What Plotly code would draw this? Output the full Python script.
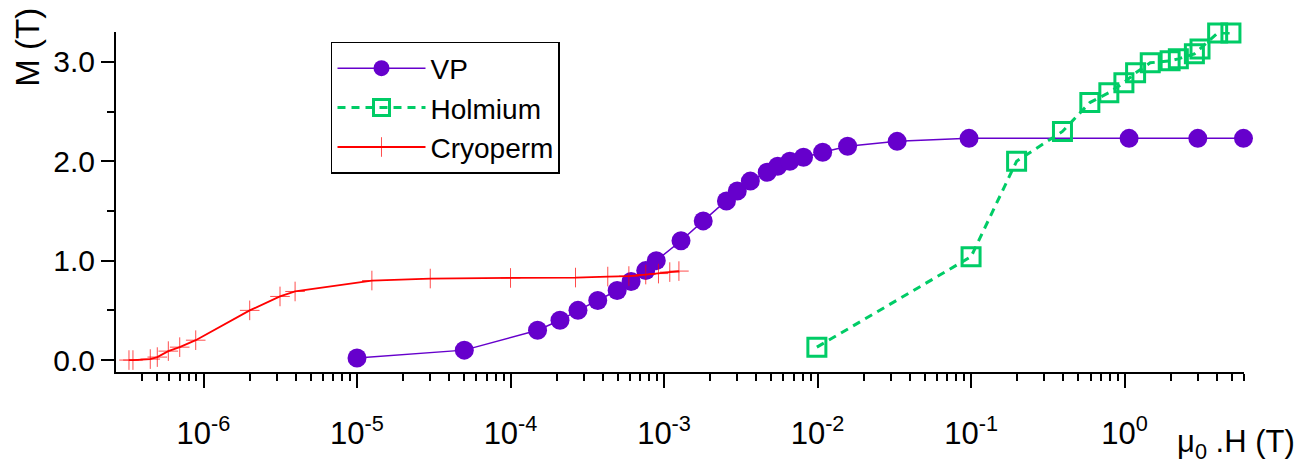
import plotly.graph_objects as go

# ---- data ----
vp_h = [1.0e-5, 5.0e-5, 1.5e-4, 2.1e-4, 2.75e-4, 3.7e-4, 4.95e-4, 6.1e-4, 7.6e-4, 8.9e-4,
        1.29e-3, 1.8e-3, 2.55e-3, 3.0e-3, 3.65e-3, 4.7e-3, 5.5e-3, 6.6e-3, 8.1e-3,
        1.08e-2, 1.57e-2, 3.3e-2, 9.7e-2, 1.07, 3.0, 5.95]
vp_m = [0.02, 0.10, 0.30, 0.40, 0.50, 0.60, 0.70, 0.79, 0.90, 1.00,
        1.20, 1.40, 1.60, 1.70, 1.80, 1.89, 1.95, 2.00, 2.04,
        2.09, 2.15, 2.20, 2.23, 2.23, 2.23, 2.23]

ho_h = [0.0099, 0.1, 0.198, 0.394, 0.594, 0.79, 0.99, 1.18, 1.47, 1.98, 2.24, 2.85, 3.1, 4.04, 4.93]
ho_m = [0.13, 1.04, 2.00, 2.30, 2.59, 2.69, 2.79, 2.89, 2.99, 3.01, 3.03, 3.08, 3.13, 3.29, 3.29]

cr_h = [3.27e-7, 3.47e-7, 4.5e-7, 5.0e-7, 5.9e-7, 7.0e-7, 8.9e-7, 2.0e-6, 3.15e-6, 3.95e-6,
        1.25e-5, 3.0e-5, 1.0e-4, 2.65e-4, 4.3e-4, 5.9e-4, 7.6e-4, 9.2e-4, 1.09e-3, 1.25e-3]
cr_m = [0.0, 0.0, 0.01, 0.03, 0.09, 0.13, 0.20, 0.50, 0.64, 0.69,
        0.80, 0.82, 0.826, 0.83, 0.84, 0.845, 0.86, 0.87, 0.885, 0.895]

x_tick_exponents = [-6, -5, -4, -3, -2, -1, 0]
y_tick_values = [0, 1, 2, 3]
y_tick_labels = ["0.0", "1.0", "2.0", "3.0"]

FONT = "Liberation Sans, Arial, sans-serif"
PURPLE = "#6600CC"
GREEN = "#00CC66"
RED = "#FF0000"

x_minor = [m * 10.0 ** e for e in range(-7, 1) for m in range(2, 10)]
x_minor = [v for v in x_minor if 3.5e-7 < v < 6.2]

fig = go.Figure()
fig.add_trace(go.Scatter(
    x=vp_h, y=vp_m, name="VP", mode="lines+markers",
    line=dict(color=PURPLE, width=1.5),
    marker=dict(symbol="circle", size=19, color=PURPLE),
    cliponaxis=False))
fig.add_trace(go.Scatter(
    x=ho_h, y=ho_m, name="Holmium", mode="lines+markers",
    line=dict(color=GREEN, width=3, dash="8px,6px"),
    marker=dict(symbol="square-open", size=18, color=GREEN, line=dict(width=3, color=GREEN)),
    cliponaxis=False))
fig.add_trace(go.Scatter(
    x=cr_h, y=cr_m, name="Cryoperm", mode="lines+markers",
    line=dict(color=RED, width=1.8),
    marker=dict(symbol="cross-thin", size=14, color=RED, line=dict(width=1, color="rgba(255,0,0,0.7)")),
    cliponaxis=False))

fig.update_layout(
    width=1307, height=468, autosize=False,
    margin=dict(l=116, r=63, t=32, b=96, pad=0),
    paper_bgcolor="white", plot_bgcolor="white",
    font=dict(family=FONT, size=30, color="black"),
    showlegend=True,
    legend=dict(x=0.1906, y=0.9706, xanchor="left", yanchor="top",
                bordercolor="black", borderwidth=1.5, bgcolor="white",
                font=dict(family=FONT, size=28), itemwidth=88,
                tracegroupgap=0),
    xaxis=dict(
        type="log", range=[-6.57, 0.778],
        showline=True, linecolor="black", linewidth=2,
        showgrid=False, zeroline=False, mirror=False,
        ticks="outside", ticklen=14, tickwidth=2, tickcolor="black",
        tickvals=[10.0 ** e for e in x_tick_exponents],
        ticktext=["10<sup>%d</sup>" % e for e in x_tick_exponents],
        tickfont=dict(family=FONT, size=31),
        ticklabelstandoff=19,
        minor=dict(tickvals=x_minor, ticks="outside", ticklen=7, tickwidth=2,
                   tickcolor="black", showgrid=False),
    ),
    yaxis=dict(
        range=[-0.12, 3.30],
        showline=True, linecolor="black", linewidth=2,
        showgrid=False, zeroline=False, mirror=False,
        ticks="outside", ticklen=13, tickwidth=2, tickcolor="black",
        tickvals=y_tick_values, ticktext=y_tick_labels,
        tickfont=dict(family=FONT, size=30),
        minor=dict(dtick=0.5, ticks="outside", ticklen=7, tickwidth=2,
                   tickcolor="black", showgrid=False),
    ),
    annotations=[
        dict(text="M\u00a0(T)", textangle=-90, xref="paper", yref="paper",
             x=-0.078, y=0.832, xanchor="center", yanchor="bottom",
             showarrow=False, font=dict(family=FONT, size=33)),
        dict(text="\u03bc<sub>0</sub> .H (T)", xref="paper", yref="paper",
             x=1.047, y=-0.212, xanchor="right", yanchor="middle",
             showarrow=False, font=dict(family=FONT, size=31)),
    ],
)

fig.write_html("out.html", post_script="document.body.style.margin='0';",
               config={"displayModeBar": False})
